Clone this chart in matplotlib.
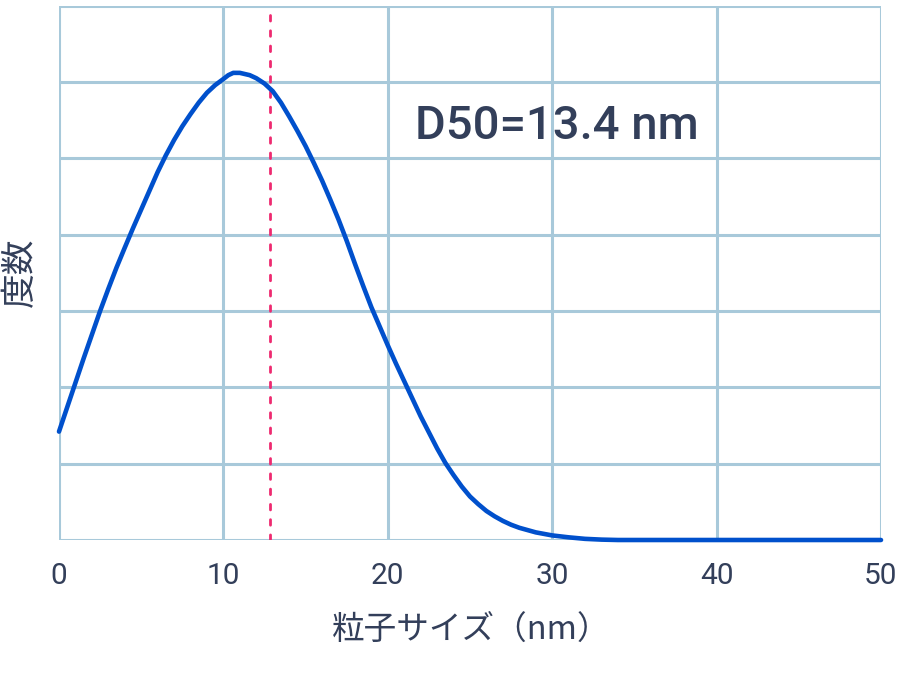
import matplotlib
matplotlib.use("Agg")
import matplotlib.pyplot as plt

# Particle size (nm) and frequency (arbitrary units, gridline = 1)
size_nm = [0, 0.5, 1, 1.5, 2, 2.5, 3, 3.5, 4, 4.5, 5, 5.5, 6, 6.5, 7, 7.5,
           8, 8.5, 9, 9.5, 10, 10.3, 10.6, 11.0, 11.6, 12.0, 12.5, 13, 13.5,
           14, 14.5, 15, 15.5, 16, 16.5, 17, 17.5, 18, 18.5, 19, 19.5, 20,
           20.5, 21, 21.5, 22, 22.5, 23, 23.5, 24, 24.5, 25, 25.5, 26, 26.5,
           27, 27.5, 28, 29, 30, 31, 32, 33, 34, 40, 45, 50]
frequency = [1.42, 1.74, 2.06, 2.38, 2.69, 3.00, 3.29, 3.57, 3.83, 4.085,
             4.33, 4.575, 4.82, 5.04, 5.24, 5.42, 5.58, 5.73, 5.86, 5.96,
             6.04, 6.09, 6.12, 6.12, 6.09, 6.05, 5.98, 5.88, 5.73, 5.55,
             5.36, 5.16, 4.94, 4.71, 4.46, 4.20, 3.92, 3.62, 3.33, 3.05,
             2.80, 2.55, 2.31, 2.08, 1.85, 1.62, 1.41, 1.20, 1.01, 0.85,
             0.70, 0.57, 0.47, 0.38, 0.31, 0.25, 0.20, 0.16, 0.10, 0.06,
             0.035, 0.015, 0.005, 0.0, 0.0, 0.0, 0.0]
d50_line_x = 12.85
d50_label = "D50=13.4 nm"
x_ticks = [0, 10, 20, 30, 40, 50]
x_label = "粒子サイズ（nm）"
y_label = "度数"

text_color = "#333f5a"
grid_color = "#a8c9da"
line_color = "#0050cc"
dash_color = "#ee2a70"

fig = plt.figure(figsize=(9, 6.83), dpi=100)
ax = fig.add_axes([59/900, 1 - 540/683, (881 - 59)/900, (540 - 5.7)/683])

ax.set_xlim(0, 50)
ax.set_ylim(0, 7)
ax.set_xticks(x_ticks)
ax.set_xticklabels([str(t) for t in x_ticks])
ax.set_yticks(range(0, 8))
ax.set_yticklabels([])
ax.tick_params(length=0, pad=16, labelsize=21.5, labelcolor=text_color)
for lab in ax.get_xticklabels():
    lab.set_family(["Roboto", "DejaVu Sans"])
ax.grid(True, color=grid_color, linewidth=2.2)
ax.set_axisbelow(True)
for sp in ax.spines.values():
    sp.set_visible(False)

ax.plot(size_nm, frequency, color=line_color, linewidth=3.3,
        solid_capstyle="round", solid_joinstyle="round", zorder=3, clip_on=False)
ax.axvline(d50_line_x, color=dash_color, linewidth=2.0,
           linestyle=(0, (2.0, 3.5)), dash_capstyle="round", zorder=2)

ax.text(30.27, 5.43, d50_label, ha="center", va="center", fontsize=34,
        fontweight="medium", color=text_color, family=["Roboto", "DejaVu Sans"],
        zorder=1)

fig.text(471/900, 1 - 630/683, x_label, ha="center", va="center", fontsize=23.5,
         color=text_color, family=["Noto Sans CJK JP", "DejaVu Sans"])
fig.text(20/900, 1 - 272/683, y_label, ha="center", va="center", fontsize=25,
         rotation=90, color=text_color, family=["Noto Sans CJK JP", "DejaVu Sans"])

fig.savefig("out.png", dpi=100, facecolor="white")
